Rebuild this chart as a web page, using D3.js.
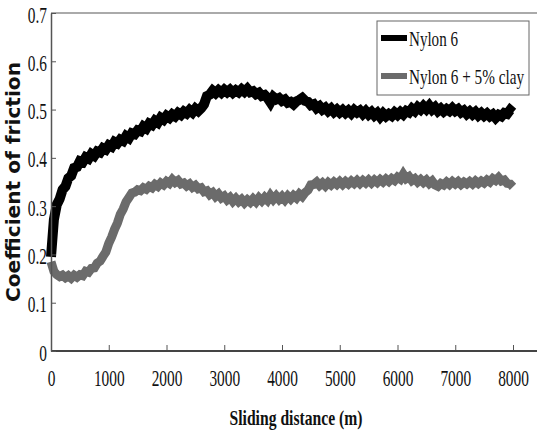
<!DOCTYPE html>
<html>
<head>
<meta charset="utf-8">
<script src="https://cdn.jsdelivr.net/npm/d3@7"></script>
<style>
  body { margin: 0; background: #fff; }
  svg { display: block; }
</style>
</head>
<body>
<div id="chart"></div>
<script>
// sliding distance (m), one reading every 50 m
var distance = d3.range(0, 8001, 50);

// Nylon 6
var nylon6 = [
    0.195, 0.272, 0.303, 0.315, 0.334, 0.341, 0.358, 0.363, 0.379, 0.381,
    0.393, 0.391, 0.401, 0.398, 0.408, 0.404, 0.413, 0.411, 0.420, 0.417,
    0.426, 0.423, 0.433, 0.430, 0.438, 0.435, 0.445, 0.441, 0.451, 0.449,
    0.457, 0.455, 0.465, 0.461, 0.471, 0.468, 0.477, 0.473, 0.483, 0.479,
    0.487, 0.483, 0.490, 0.486, 0.493, 0.489, 0.496, 0.492, 0.499, 0.494,
    0.502, 0.497, 0.503, 0.511, 0.528, 0.531, 0.539, 0.534, 0.540, 0.535,
    0.541, 0.536, 0.541, 0.535, 0.540, 0.536, 0.542, 0.537, 0.543, 0.536,
    0.538, 0.532, 0.535, 0.528, 0.530, 0.524, 0.515, 0.526, 0.521, 0.524,
    0.518, 0.521, 0.514, 0.516, 0.511, 0.517, 0.520, 0.524, 0.518, 0.516,
    0.509, 0.511, 0.503, 0.507, 0.500, 0.504, 0.497, 0.502, 0.495, 0.500,
    0.494, 0.499, 0.493, 0.498, 0.492, 0.499, 0.494, 0.498, 0.491, 0.497,
    0.490, 0.495, 0.488, 0.493, 0.485, 0.492, 0.486, 0.491, 0.487, 0.494,
    0.489, 0.495, 0.490, 0.497, 0.494, 0.502, 0.497, 0.505, 0.500, 0.507,
    0.501, 0.508, 0.500, 0.505, 0.497, 0.502, 0.496, 0.501, 0.497, 0.503,
    0.497, 0.501, 0.494, 0.498, 0.491, 0.496, 0.490, 0.495, 0.488, 0.493,
    0.487, 0.492, 0.486, 0.490, 0.483, 0.489, 0.486, 0.493, 0.491, 0.499,
    0.494
];

// Nylon 6 + 5% clay
var nylon6Clay = [
    0.185, 0.165, 0.158, 0.154, 0.157, 0.152, 0.156, 0.151, 0.157, 0.153,
    0.158, 0.156, 0.165, 0.163, 0.171, 0.172, 0.182, 0.186, 0.196, 0.205,
    0.223, 0.236, 0.252, 0.265, 0.283, 0.294, 0.309, 0.318, 0.327, 0.329,
    0.334, 0.332, 0.338, 0.335, 0.341, 0.338, 0.345, 0.341, 0.348, 0.344,
    0.351, 0.347, 0.355, 0.349, 0.353, 0.346, 0.348, 0.342, 0.346, 0.339,
    0.343, 0.336, 0.338, 0.330, 0.332, 0.324, 0.328, 0.320, 0.325, 0.317,
    0.321, 0.313, 0.318, 0.310, 0.316, 0.309, 0.314, 0.307, 0.313, 0.308,
    0.315, 0.309, 0.317, 0.311, 0.318, 0.312, 0.322, 0.314, 0.321, 0.314,
    0.320, 0.313, 0.321, 0.315, 0.322, 0.317, 0.325, 0.320, 0.328, 0.333,
    0.344, 0.345, 0.350, 0.343, 0.348, 0.342, 0.349, 0.344, 0.350, 0.345,
    0.351, 0.345, 0.351, 0.346, 0.352, 0.347, 0.353, 0.347, 0.353, 0.348,
    0.354, 0.348, 0.354, 0.349, 0.355, 0.350, 0.356, 0.351, 0.357, 0.353,
    0.360, 0.356, 0.366, 0.357, 0.361, 0.353, 0.357, 0.350, 0.355, 0.349,
    0.354, 0.347, 0.352, 0.344, 0.341, 0.347, 0.344, 0.350, 0.345, 0.351,
    0.346, 0.351, 0.345, 0.350, 0.346, 0.351, 0.346, 0.352, 0.347, 0.352,
    0.348, 0.354, 0.350, 0.357, 0.353, 0.359, 0.352, 0.354, 0.347, 0.346,
    0.340
];

var xTicks = [0, 1000, 2000, 3000, 4000, 5000, 6000, 7000, 8000];
var yTicks = [0, 0.1, 0.2, 0.3, 0.4, 0.5, 0.6, 0.7];
var seriesNames = ['Nylon 6', 'Nylon 6 + 5% clay'];
var seriesColors = ['#000', '#6b6b6b'];

var width = 537, height = 434;
var plotLeft = 51, plotRight = 537, plotTop = 13, plotBottom = 351;

// 8000 m sits at x=513, the frame runs on past the picture edge
var x = d3.scaleLinear().domain([0, 8000]).range([plotLeft, 513]);
var y = d3.scaleLinear().domain([0, 0.7]).range([plotBottom, plotTop]);

var svg = d3.select('#chart')
    .append('svg')
    .attr('width', width)
    .attr('height', height);

var squeeze = function(sel, k) {
    sel.each(function() {
        var len = this.getComputedTextLength();
        d3.select(this)
            .attr('textLength', len * k)
            .attr('lengthAdjust', 'spacingAndGlyphs');
    });
};

// top frame line
svg.append('line')
    .attr('x1', plotLeft).attr('x2', plotRight)
    .attr('y1', plotTop).attr('y2', plotTop)
    .attr('stroke', '#aaa')
    .attr('stroke-width', 2);

var line = d3.line()
    .x((d, i) => x(distance[i]))
    .y(d => y(d));

[nylon6, nylon6Clay].forEach((vals, i) => {
    svg.append('path')
        .datum(vals)
        .attr('d', line)
        .attr('fill', 'none')
        .attr('stroke', seriesColors[i])
        .attr('stroke-width', i === 0 ? 10 : 9)
        .attr('stroke-linejoin', 'miter')
        .attr('stroke-miterlimit', 3);
});

// axes
var xAxis = svg.append('g')
    .attr('transform', `translate(0,${plotBottom})`)
    .call(d3.axisBottom(x)
        .tickValues(xTicks)
        .tickFormat(d3.format('d'))
        .tickSizeInner(-6)
        .tickSizeOuter(0)
        .tickPadding(18));
xAxis.select('.domain').remove();
xAxis.append('line')
    .attr('x1', plotLeft).attr('x2', plotRight)
    .attr('stroke', '#444')
    .attr('stroke-width', 2);
xAxis.selectAll('.tick line').attr('stroke', '#555');

var yAxis = svg.append('g')
    .attr('transform', `translate(${plotLeft},0)`)
    .call(d3.axisLeft(y)
        .tickValues(yTicks)
        .tickFormat(d => d === 0 ? '0' : d3.format('.1f')(d))
        .tickSizeInner(-5)
        .tickSizeOuter(0)
        .tickPadding(4));
yAxis.select('.domain').attr('stroke', '#555').attr('stroke-width', 1.5);
yAxis.selectAll('.tick line').attr('stroke', '#555');
yAxis.selectAll('.tick text').attr('dy', '0.38em');

svg.selectAll('.tick text')
    .attr('font-family', '"Liberation Serif", serif')
    .attr('font-size', 24)
    .attr('fill', '#111');
squeeze(svg.selectAll('.tick text'), 0.64);

// axis titles
svg.append('text')
    .attr('x', 296)
    .attr('y', 425)
    .attr('text-anchor', 'middle')
    .attr('font-family', '"Liberation Serif", serif')
    .attr('font-weight', 'bold')
    .attr('font-size', 22)
    .attr('fill', '#111')
    .attr('textLength', 133)
    .attr('lengthAdjust', 'spacingAndGlyphs')
    .text('Sliding distance (m)');

svg.append('text')
    .attr('transform', 'translate(20,182) rotate(-90)')
    .attr('text-anchor', 'middle')
    .attr('font-family', '"DejaVu Sans", sans-serif')
    .attr('font-weight', 'bold')
    .attr('font-size', 19)
    .attr('fill', '#111')
    .attr('textLength', 240)
    .attr('lengthAdjust', 'spacingAndGlyphs')
    .text('Coefficient of friction');

// legend
var legend = svg.append('g');
legend.append('rect')
    .attr('x', 377).attr('y', 21)
    .attr('width', 152).attr('height', 74)
    .attr('fill', '#fff')
    .attr('stroke', '#666')
    .attr('stroke-width', 1);

var legendLens = [49, 115];
seriesNames.forEach((name, i) => {
    var ly = 38 + i * 38;
    legend.append('line')
        .attr('x1', 381).attr('x2', 407)
        .attr('y1', ly).attr('y2', ly)
        .attr('stroke', seriesColors[i])
        .attr('stroke-width', 6);
    legend.append('text')
        .attr('x', 409)
        .attr('y', ly + 8)
        .attr('font-family', '"Liberation Serif", serif')
        .attr('font-size', 22)
        .attr('fill', '#111')
        .attr('textLength', legendLens[i])
        .attr('lengthAdjust', 'spacingAndGlyphs')
        .text(name);
});
</script>
</body>
</html>
